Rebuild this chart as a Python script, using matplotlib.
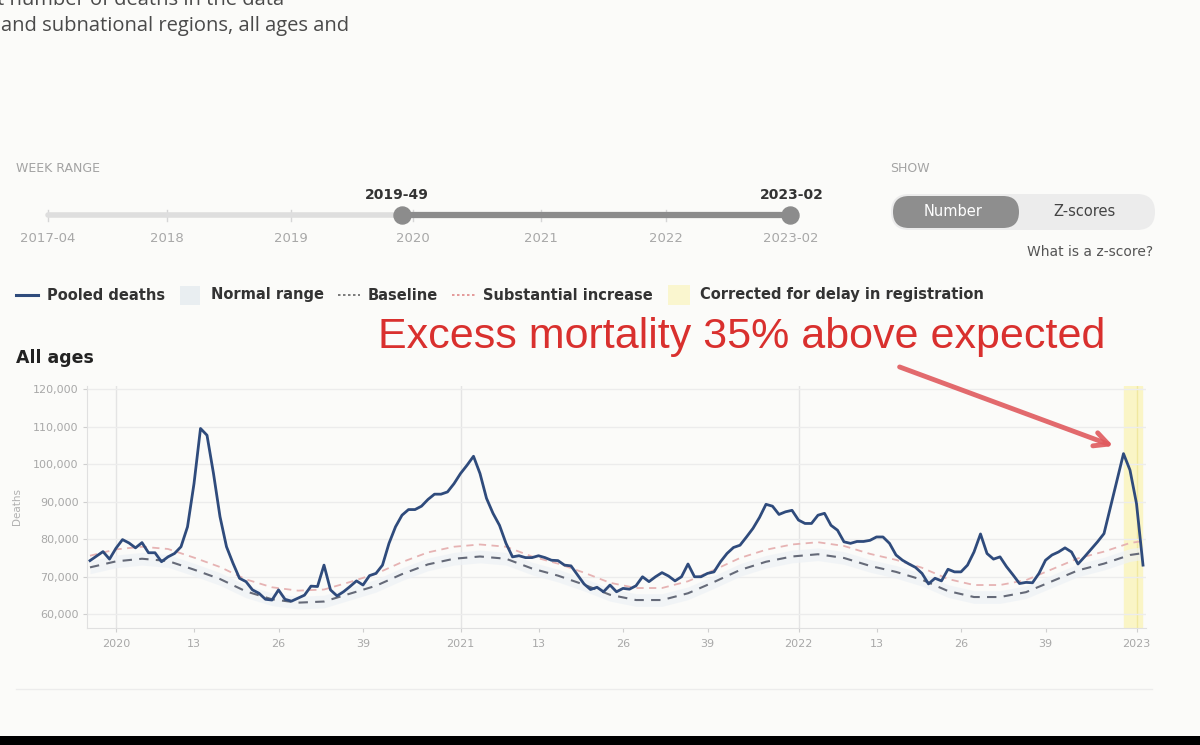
import matplotlib.pyplot as plt
from matplotlib.patches import Rectangle, FancyBboxPatch

# pooled weekly deaths (thousands), 2019-49 .. 2023-02
deaths_k = [
    74.3, 75.5, 76.7, 74.7, 77.6, 79.9, 79.0, 77.7, 79.1, 76.4,
    76.4, 74.0, 75.3, 76.2, 78.0, 83.3, 94.8, 109.5, 107.7, 97.5,
    86.0, 78.0, 73.6, 69.6, 68.7, 66.5, 65.6, 64.0, 63.8, 66.5,
    64.0, 63.5, 64.3, 65.1, 67.5, 67.4, 73.1, 66.5, 64.9, 66.0,
    67.4, 68.9, 67.8, 70.3, 70.9, 73.1, 78.9, 83.3, 86.4, 87.9,
    87.9, 88.8, 90.6, 92.0, 92.0, 92.6, 94.8, 97.5, 99.7, 102.1,
    97.5, 90.9, 86.9, 83.7, 78.9, 75.3, 75.6, 75.1, 75.1, 75.6,
    75.1, 74.4, 74.3, 73.1, 72.9, 70.5, 68.1, 66.6, 67.2, 66.0,
    67.8, 66.0, 66.9, 66.7, 67.6, 70.0, 68.7, 70.0, 71.1, 70.2,
    68.9, 70.0, 73.4, 70.0, 70.0, 70.9, 71.3, 74.0, 76.2, 77.8,
    78.4, 80.6, 82.9, 85.8, 89.3, 88.8, 86.6, 87.3, 87.7, 85.1,
    84.2, 84.2, 86.4, 86.9, 83.7, 82.4, 79.3, 78.9, 79.4, 79.4,
    79.7, 80.6, 80.6, 78.9, 75.8, 74.4, 73.4, 72.5, 70.9, 68.1,
    69.6, 68.9, 72.0, 71.3, 71.3, 73.1, 76.6, 81.4, 76.2, 74.7,
    75.3, 72.7, 70.5, 68.2, 68.5, 68.4, 70.9, 74.4, 75.8, 76.6,
    77.7, 76.6, 73.4, 75.3, 77.3, 79.3, 81.5, 88.6, 95.7, 102.8,
    98.4, 89.5, 73.1,
]

# baseline curves read every 4 weeks
base_weeks = [0, 4, 8, 12, 16, 20, 24, 28, 32, 36, 40, 44, 48, 52, 56, 60, 64, 68, 72, 76, 80,
              84, 88, 92, 96, 100, 104, 108, 112, 116, 120, 124, 128, 132, 136, 140, 144, 148,
              152, 156, 160, 162]
baseline = [72.5, 74.1, 74.8, 74.2, 71.9, 69.4, 66.1, 64.0, 63.1, 63.4, 65.5, 67.6, 70.7, 73.3,
            74.8, 75.4, 74.8, 72.2, 70.3, 67.9, 65.2, 63.8, 63.8, 65.6, 68.6, 71.8, 74.0, 75.4,
            76.0, 75.0, 72.9, 71.3, 69.2, 66.2, 64.6, 64.6, 65.9, 68.8, 71.7, 73.5, 75.8, 76.3]
substantial = [75.6, 77.3, 78.0, 77.4, 75.1, 72.6, 69.3, 67.2, 66.3, 66.6, 68.6, 70.8, 73.9, 76.5,
               78.0, 78.6, 78.0, 75.4, 73.5, 71.1, 68.4, 67.0, 67.0, 68.8, 71.8, 75.0, 77.2, 78.6,
               79.2, 78.2, 76.1, 74.5, 72.4, 69.4, 67.8, 67.8, 69.1, 72.0, 74.9, 76.7, 79.0, 79.5]
normal_hi = [74.2, 75.8, 76.5, 75.9, 73.6, 71.1, 67.8, 65.7, 64.8, 65.1, 67.2, 69.3, 72.4, 75.0,
             76.5, 77.1, 76.5, 73.9, 72.0, 69.6, 66.9, 65.5, 65.5, 67.3, 70.3, 73.5, 75.7, 77.1,
             77.7, 76.7, 74.6, 73.0, 70.9, 67.9, 66.3, 66.3, 67.6, 70.5, 73.4, 75.2, 77.5, 78.0]
normal_lo = [70.8, 72.4, 73.1, 72.5, 70.2, 67.7, 64.4, 62.3, 61.4, 61.7, 63.8, 65.9, 69.0, 71.6,
             73.1, 73.7, 73.1, 70.5, 68.6, 66.2, 63.5, 62.1, 62.1, 63.9, 66.9, 70.1, 72.3, 73.7,
             74.3, 73.3, 71.2, 69.6, 67.5, 64.5, 62.9, 62.9, 64.2, 67.1, 70.0, 71.8, 74.1, 74.6]

x_ticks = [4, 16, 29, 42, 57, 69, 82, 95, 109, 121, 134, 147, 161]
x_labels = ['2020', '13', '26', '39', '2021', '13', '26', '39', '2022', '13', '26', '39', '2023']
year_lines = [4, 57, 109, 161]
y_ticks = [60, 70, 80, 90, 100, 110, 120]
y_labels = ['60,000', '70,000', '80,000', '90,000', '100,000', '110,000', '120,000']
corrected_span = (159, 161.8)

slider_labels = ['2017-04', '2018', '2019', '2020', '2021', '2022', '2023-02']
slider_pos = [48, 167, 291, 413, 541, 666, 791]

bg = '#fbfbf9'
narrow = ['Liberation Sans Narrow', 'DejaVu Sans']
plt.rcParams['font.family'] = narrow

fig = plt.figure(figsize=(12, 7.45), dpi=100, facecolor=bg)

# chart
ax = fig.add_axes([86.75 / 1200, 117 / 745, 1059.5 / 1200, 242.5 / 745])
ax.set_facecolor('none')
weeks = list(range(len(deaths_k)))
ax.axvspan(*corrected_span, color='#faf5c6', zorder=0)
for yl in year_lines:
    ax.axvline(yl, color='#f0e8a0' if yl == year_lines[-1] else '#e4e4e4', lw=1, zorder=0)
for yt in y_ticks:
    ax.axhline(yt, color='#ececec', lw=1, zorder=0)
ax.fill_between(base_weeks, normal_lo, normal_hi, color='#eef2f6', alpha=0.7, lw=0, zorder=1)
ax.plot(base_weeks, substantial, color='#e6b3b3', lw=1.3, ls=(0, (4, 3)), zorder=2)
ax.plot(base_weeks, baseline, color='#656a78', lw=1.5, ls=(0, (4.5, 3.5)), zorder=2)
ax.plot(weeks, deaths_k, color='#2f4b7c', lw=2.0, zorder=5)

ax.set_xlim(-0.5, 162.5)
ax.set_ylim(56.35, 120.95)
ax.set_xticks(x_ticks)
ax.set_xticklabels(x_labels)
ax.set_yticks(y_ticks)
ax.set_yticklabels(y_labels)
ax.tick_params(axis='both', colors='#cfcfcf', labelcolor='#a8a8a8', labelsize=8, length=3, pad=3)
ax.tick_params(axis='x', pad=5)
for s in ['top', 'right']:
    ax.spines[s].set_visible(False)
for s in ['left', 'bottom']:
    ax.spines[s].set_color('#e0e0e0')
ax.set_ylabel('Deaths', color='#b0b0b0', fontsize=7.5, labelpad=8)

# page elements in pixel coordinates
ui = fig.add_axes([0, 0, 1, 1])
ui.set_zorder(5)
ui.patch.set_alpha(0)
ui.set_xlim(0, 1200)
ui.set_ylim(745, 0)
ui.axis('off')

body = ['Open Sans', 'DejaVu Sans']
ui.text(-3, 0, 't number of deaths in the data', fontsize=14.5, color='#4a4a4a', va='center', family=body)
ui.text(1, 26, 'and subnational regions, all ages and', fontsize=14.5, color='#4a4a4a', va='center',
        family=body)

ui.text(16, 168, 'WEEK RANGE', fontsize=9, color='#a3a3a3', va='center')
ui.plot([48, 790], [215, 215], color='#dedede', lw=4, solid_capstyle='round')
ui.plot([402, 790], [215, 215], color='#8c8c8c', lw=4.5)
ui.scatter([402, 790], [215, 215], s=150, color='#8c8c8c', zorder=3)
for p, lab in zip(slider_pos, slider_labels):
    ui.plot([p, p], [210, 221], color='#d6d6d6', lw=1, zorder=1)
    ui.text(p, 238, lab, fontsize=9.5, color='#a8a8a8', ha='center', va='center')
ui.text(397, 195, '2019-49', fontsize=10, color='#333333', ha='center', va='center', weight='bold')
ui.text(792, 195, '2023-02', fontsize=10, color='#333333', ha='center', va='center', weight='bold')

ui.text(890, 168, 'SHOW', fontsize=9, color='#a3a3a3', va='center')
ui.add_patch(FancyBboxPatch((891, 194), 264, 36, boxstyle='round,pad=0,rounding_size=18',
                            fc='#ececec', ec='none'))
ui.add_patch(FancyBboxPatch((893, 196), 126, 32, boxstyle='round,pad=0,rounding_size=16',
                            fc='#8e8e8e', ec='none'))
ui.text(953, 212, 'Number', fontsize=10.5, color='white', ha='center', va='center')
ui.text(1085, 212, 'Z-scores', fontsize=10.5, color='#444444', ha='center', va='center')
ui.text(1153, 252, 'What is a z-score?', fontsize=10, color='#555555', ha='right', va='center')

# legend row
ly = 295
ui.plot([16, 38], [ly, ly], color='#2f4b7c', lw=2.2)
ui.text(47, ly, 'Pooled deaths', fontsize=10.5, color='#333333', va='center', weight='bold')
ui.add_patch(Rectangle((180, 286), 20, 19, fc='#e9eef1', ec='none'))
ui.text(211, ly, 'Normal range', fontsize=10.5, color='#333333', va='center', weight='bold')
ui.plot([338, 360], [ly, ly], color='#666666', lw=1.2, ls=(0, (1.5, 1.5)))
ui.text(368, ly, 'Baseline', fontsize=10.5, color='#333333', va='center', weight='bold')
ui.plot([452, 475], [ly, ly], color='#e08a8a', lw=1.2, ls=(0, (1.5, 1.5)))
ui.text(483, ly, 'Substantial increase', fontsize=10.5, color='#333333', va='center', weight='bold')
ui.add_patch(Rectangle((668, 285), 22, 20, fc='#faf6cf', ec='none'))
ui.text(700, ly, 'Corrected for delay in registration', fontsize=10.5, color='#333333', va='center',
        weight='bold')

ui.text(378, 337, 'Excess mortality 35% above expected', fontsize=31, color='#d9302e', va='center',
        family=['Liberation Sans', 'DejaVu Sans'])
ui.annotate('', xy=(1116, 447), xytext=(897, 366),
            arrowprops=dict(arrowstyle='->,head_length=1.0,head_width=0.5', color='#e05a5e',
                            lw=3.5, alpha=0.9))

ui.text(16, 358, 'All ages', fontsize=12.5, color='#222222', va='center', weight='bold')

ui.plot([16, 1152], [689, 689], color='#ececec', lw=1)
ui.add_patch(Rectangle((0, 736), 1200, 10, fc='black', ec='none'))

fig.savefig('out.png', dpi=100, facecolor=bg)
